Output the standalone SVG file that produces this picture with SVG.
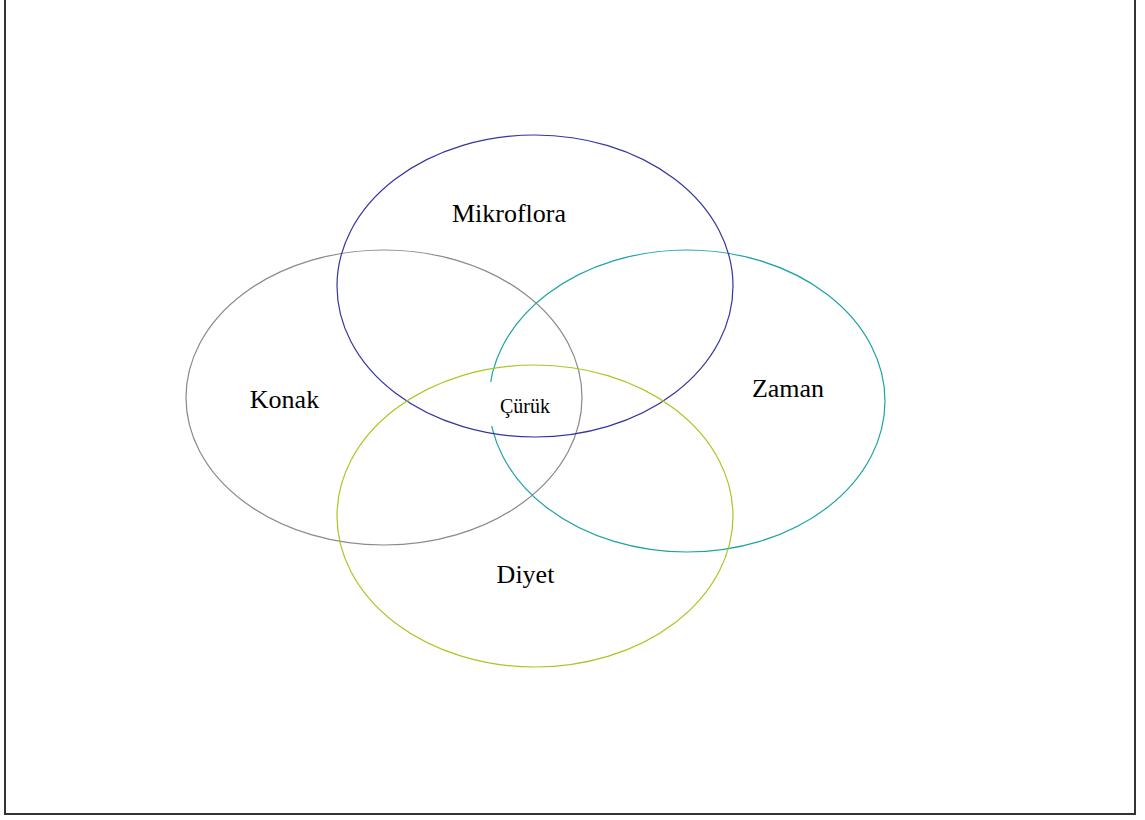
<svg xmlns="http://www.w3.org/2000/svg" width="1145" height="820" viewBox="0 0 1145 820">
<style>
.set{fill:none;stroke-width:1.2}
.lbl{font-family:"Liberation Serif","Times New Roman",serif;font-size:26px;fill:#000;text-anchor:middle}
.core{font-family:"Liberation Serif","Times New Roman",serif;font-size:20px;fill:#000;text-anchor:middle}
</style>
<rect x="0" y="0" width="1145" height="820" fill="#fff"/>
<rect x="5" y="-5" width="1130" height="819" fill="none" stroke="#333" stroke-width="2"/>
<g id="zaman">
<ellipse class="set" cx="687" cy="401" rx="198" ry="151" stroke="#1fa3a3"/>
<text class="lbl" x="788" y="397">Zaman</text>
</g>
<g id="curuk">
<rect x="486" y="382" width="86" height="44" fill="#fff"/>
<text class="core" x="525" y="413">Çürük</text>
</g>
<g id="konak">
<ellipse class="set" cx="384" cy="397.5" rx="198" ry="147.5" stroke="#8a8a8a"/>
<text class="lbl" x="284.5" y="408">Konak</text>
</g>
<g id="mikroflora">
<ellipse class="set" cx="535" cy="286" rx="198" ry="151" stroke="#3535a0"/>
<text class="lbl" x="509" y="222">Mikroflora</text>
</g>
<g id="diyet">
<ellipse class="set" cx="535" cy="516" rx="198" ry="151" stroke="#a8c823"/>
<text class="lbl" x="525.5" y="583">Diyet</text>
</g>
<g id="connectors"></g>
</svg>
